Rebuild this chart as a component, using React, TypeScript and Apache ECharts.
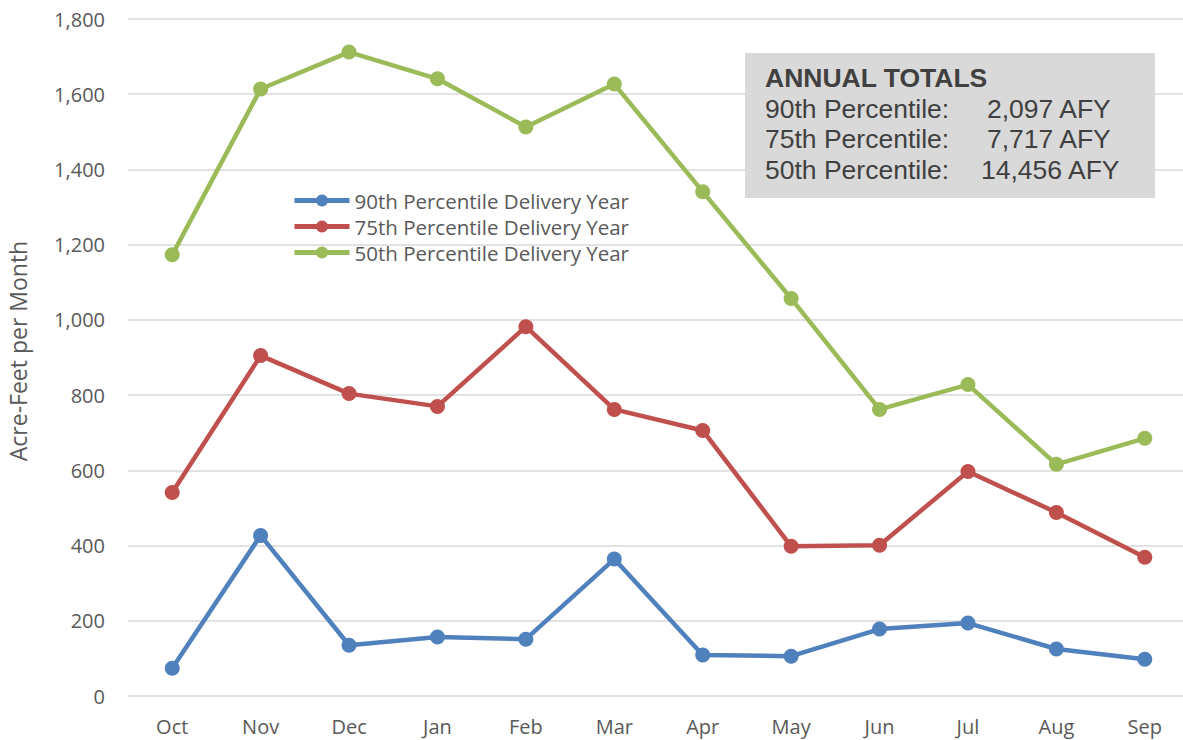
import React, { useEffect, useRef } from "react";
import * as echarts from "echarts";

const months = ["Oct", "Nov", "Dec", "Jan", "Feb", "Mar", "Apr", "May", "Jun", "Jul", "Aug", "Sep"];
const p90 = [74, 427, 135, 157, 151, 364, 109, 106, 178, 194, 125, 98];
const p75 = [541, 905, 804, 770, 982, 762, 706, 398, 401, 597, 488, 369];
const p50 = [1173, 1614, 1712, 1641, 1513, 1627, 1341, 1057, 762, 828, 616, 685];
const seriesNames = [
  "90th Percentile Delivery Year",
  "75th Percentile Delivery Year",
  "50th Percentile Delivery Year",
];
const colors = ["#4f81bd", "#c0504d", "#9bbb59"];
const yAxisTitle = "Acre-Feet per Month";
const totalsTitle = "ANNUAL TOTALS";
const totalsLabels = ["90th Percentile:", "75th Percentile:", "50th Percentile:"];
const totalsValues = ["2,097 AFY", "7,717 AFY", "14,456 AFY"];

export default function App() {
  const ref = useRef<HTMLDivElement>(null);
  useEffect(() => {
    if (!ref.current) return;
    const chart = echarts.init(ref.current, null, { renderer: "svg" });
    const data = [p90, p75, p50];
    const valueX = [987, 987, 981];
    const boxFont = '"Liberation Sans", Arial, sans-serif';
    chart.setOption({
      animation: false,
      backgroundColor: "#ffffff",
      textStyle: { fontFamily: '"Open Sans", sans-serif' },
      grid: { left: 128, top: 19, width: 1061, height: 677, containLabel: false },
      legend: {
        orient: "vertical",
        left: 292,
        top: 190,
        padding: 0,
        itemWidth: 55,
        itemHeight: 15,
        itemGap: 5,
        lineStyle: { width: 5 },
        textStyle: { fontSize: 20.5, color: "#595959", fontFamily: '"Open Sans", sans-serif' },
        data: seriesNames,
      },
      xAxis: {
        type: "category",
        data: months,
        boundaryGap: true,
        axisLine: { show: false },
        axisTick: { show: false },
        axisLabel: { fontSize: 20, color: "#595959", margin: 20 },
      },
      yAxis: {
        type: "value",
        min: 0,
        max: 1800,
        interval: 200,
        axisLine: { show: false },
        axisTick: { show: false },
        axisLabel: {
          fontSize: 20,
          color: "#595959",
          margin: 23,
          formatter: (v: number) => v.toLocaleString("en-US"),
        },
        splitLine: { lineStyle: { color: "#d9d9d9", width: 1.5 } },
      },
      series: seriesNames.map((name, i) => ({
        name,
        type: "line",
        data: data[i],
        symbol: "circle",
        symbolSize: 15,
        itemStyle: { color: colors[i] },
        lineStyle: { color: colors[i], width: 4.5 },
      })),
      graphic: [
        {
          type: "text",
          x: 18,
          y: 351,
          rotation: Math.PI / 2,
          style: {
            text: yAxisTitle,
            fontFamily: '"Open Sans", sans-serif',
            fontSize: 23,
            fill: "#595959",
            align: "center",
            verticalAlign: "middle",
          },
        },
        {
          type: "rect",
          shape: { x: 745, y: 53, width: 410, height: 145 },
          style: { fill: "#d9d9d9" },
          z: 10,
        },
        {
          type: "text",
          x: 765,
          y: 64,
          z: 11,
          style: {
            text: totalsTitle,
            fontFamily: boxFont,
            fontSize: 26.5,
            fontWeight: "bold",
            fill: "#404040",
            verticalAlign: "top",
          },
        },
        ...totalsLabels.flatMap((lab, i) => [
          {
            type: "text",
            x: 765,
            y: 95 + i * 30.8,
            z: 11,
            style: {
              text: lab,
              fontFamily: boxFont,
              fontSize: 26.5,
              fill: "#404040",
              verticalAlign: "top",
            },
          },
          {
            type: "text",
            x: valueX[i],
            y: 95 + i * 30.8,
            z: 11,
            style: {
              text: totalsValues[i],
              fontFamily: boxFont,
              fontSize: 26.5,
              fill: "#404040",
              verticalAlign: "top",
            },
          },
        ]),
      ],
    });
    return () => chart.dispose();
  }, []);
  return (
    <div style={{ position: "fixed", left: 0, top: 0, width: 1183, height: 740, overflow: "hidden", background: "#fff" }}>
      <div ref={ref} style={{ width: 1200, height: 740 }} />
    </div>
  );
}
